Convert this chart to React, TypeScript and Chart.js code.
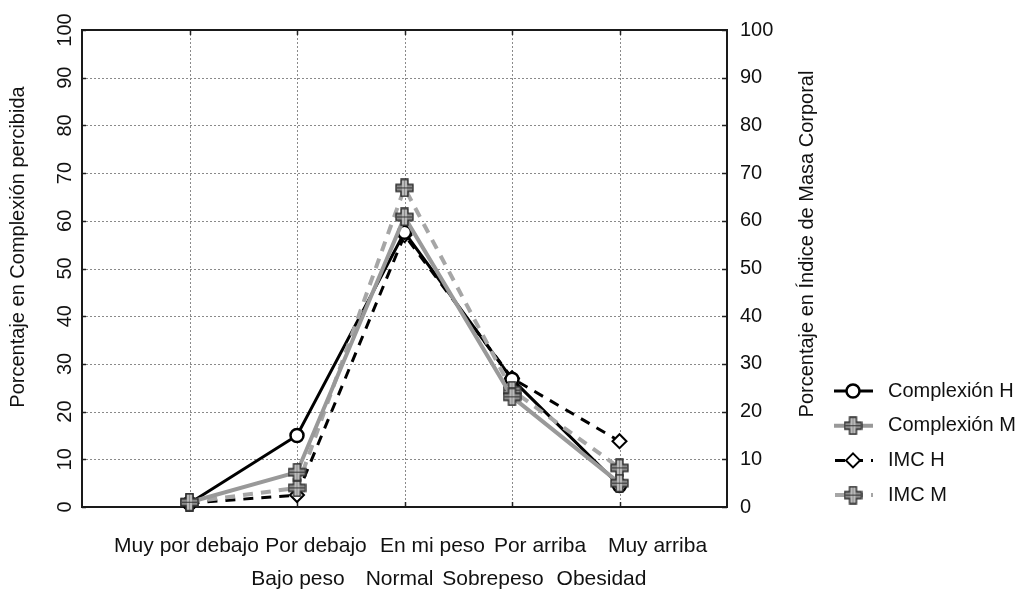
import React, { useEffect, useRef } from "react";
import { Chart, registerables } from "chart.js";

Chart.register(...registerables);

// ---- data ----
const complexionLabels = ["Muy por debajo", "Por debajo", "En mi peso", "Por arriba", "Muy arriba"];
const imcLabels = ["", "Bajo peso", "Normal", "Sobrepeso", "Obesidad"];
const categoryPositions = [1, 2, 3, 4, 5];
const complexionH = [0.8, 15.0, 57.6, 26.8, 4.5];
const complexionM = [1.0, 7.3, 60.8, 23.1, 5.0];
const imcH = [0.8, 2.5, 57.0, 27.0, 13.8];
const imcM = [1.0, 4.0, 66.9, 24.5, 8.2];
const yTickValues = [0, 10, 20, 30, 40, 50, 60, 70, 80, 90, 100];
const seriesNames = ["Complexión H", "Complexión M", "IMC H", "IMC M"];
const leftTitle = "Porcentaje en Complexión percibida";
const rightTitle = "Porcentaje en Índice de Masa Corporal";

// ---- layout (not data) ----
const row1Offsets = [-3, 19, 28, 28, 38];
const row2Offsets = [0, 1, -5, -19, -18];
const FONT = '"Liberation Sans", Arial, sans-serif';
const TEXT = "#111";

function makeCross(): HTMLCanvasElement {
  const c = document.createElement("canvas");
  c.width = 19;
  c.height = 19;
  const g = c.getContext("2d")!;
  const cx = 9.5, cy = 9.5, a = 3.5, L = 8.5;
  g.beginPath();
  g.moveTo(cx - a, cy - L);
  g.lineTo(cx + a, cy - L);
  g.lineTo(cx + a, cy - a);
  g.lineTo(cx + L, cy - a);
  g.lineTo(cx + L, cy + a);
  g.lineTo(cx + a, cy + a);
  g.lineTo(cx + a, cy + L);
  g.lineTo(cx - a, cy + L);
  g.lineTo(cx - a, cy + a);
  g.lineTo(cx - L, cy + a);
  g.lineTo(cx - L, cy - a);
  g.lineTo(cx - a, cy - a);
  g.closePath();
  g.fillStyle = "#8c8c8c";
  g.fill();
  g.strokeStyle = "#2a2a2a";
  g.lineWidth = 1.3;
  g.stroke();
  g.strokeStyle = "#e8e8e8";
  g.lineWidth = 1;
  g.beginPath();
  g.moveTo(cx - 1.5, cy - L + 1);
  g.lineTo(cx - 1.5, cy + L - 1);
  g.moveTo(cx + 1.5, cy - L + 1);
  g.lineTo(cx + 1.5, cy + L - 1);
  g.stroke();
  g.strokeStyle = "#333";
  g.beginPath();
  g.moveTo(cx - L + 1, cy);
  g.lineTo(cx + L - 1, cy);
  g.stroke();
  return c;
}

function line(ctx: CanvasRenderingContext2D, x1: number, y1: number, x2: number, y2: number) {
  ctx.beginPath();
  ctx.moveTo(x1, y1);
  ctx.lineTo(x2, y2);
  ctx.stroke();
}

function drawMarker(ctx: CanvasRenderingContext2D, ds: any, x: number, y: number) {
  const style = ds.pointStyle;
  if (style instanceof HTMLCanvasElement) {
    ctx.drawImage(style, x - style.width / 2, y - style.height / 2);
    return;
  }
  const r = ds.pointRadius;
  ctx.beginPath();
  if (style === "circle") {
    ctx.arc(x, y, r, 0, Math.PI * 2);
  } else {
    ctx.moveTo(x, y - r);
    ctx.lineTo(x + r, y);
    ctx.lineTo(x, y + r);
    ctx.lineTo(x - r, y);
    ctx.closePath();
  }
  ctx.fillStyle = ds.pointBackgroundColor;
  ctx.fill();
  ctx.lineWidth = ds.pointBorderWidth;
  ctx.strokeStyle = ds.pointBorderColor;
  ctx.stroke();
}

const decor = {
  id: "decor",
  beforeDatasetsDraw(chart: any) {
    const { ctx, chartArea: a, scales } = chart;
    const xs = scales.x, ys = scales.y;
    ctx.save();
    ctx.strokeStyle = "#8a8a8a";
    ctx.lineWidth = 1;
    ctx.setLineDash([2, 2]);
    yTickValues.forEach((v) => {
      if (v === 0 || v === 100) return;
      const py = Math.round(ys.getPixelForValue(v)) + 0.5;
      line(ctx, a.left, py, a.right, py);
    });
    categoryPositions.forEach((c) => {
      const px = Math.round(xs.getPixelForValue(c)) + 0.5;
      line(ctx, px, a.top, px, a.bottom);
    });
    ctx.setLineDash([]);
    ctx.strokeStyle = "#222";
    ctx.lineWidth = 1.5;
    yTickValues.forEach((v) => {
      const py = Math.round(ys.getPixelForValue(v)) + 0.5;
      line(ctx, a.left, py, a.left + 4, py);
      line(ctx, a.right - 5, py, a.right, py);
    });
    categoryPositions.forEach((c) => {
      const px = Math.round(xs.getPixelForValue(c)) + 0.5;
      line(ctx, px, a.bottom - 5, px, a.bottom);
      line(ctx, px, a.top, px, a.top + 5);
    });
    ctx.lineWidth = 2;
    ctx.strokeStyle = "#1a1a1a";
    ctx.strokeRect(a.left, a.top, a.right - a.left, a.bottom - a.top);
    ctx.restore();
  },
  afterDraw(chart: any) {
    const { ctx, chartArea: a, scales } = chart;
    const xs = scales.x, ys = scales.y;
    ctx.save();
    ctx.fillStyle = TEXT;
    ctx.font = `20px ${FONT}`;
    ctx.textBaseline = "middle";
    // left tick labels (rotated)
    yTickValues.forEach((v) => {
      const py = ys.getPixelForValue(v);
      ctx.save();
      ctx.translate(a.left - 17, py);
      ctx.rotate(-Math.PI / 2);
      ctx.textAlign = "center";
      ctx.fillText(String(v), 0, 0);
      ctx.restore();
    });
    // right tick labels
    ctx.textAlign = "left";
    yTickValues.forEach((v) => {
      const py = ys.getPixelForValue(v);
      ctx.fillText(String(v), a.right + 13, py);
    });
    // titles
    const midY = 247;
    ctx.save();
    ctx.translate(18, midY);
    ctx.rotate(-Math.PI / 2);
    ctx.textAlign = "center";
    ctx.fillText(leftTitle, 0, 0);
    ctx.restore();
    ctx.save();
    ctx.translate(a.right + 80, midY - 3);
    ctx.rotate(-Math.PI / 2);
    ctx.textAlign = "center";
    ctx.fillText(rightTitle, 0, 0);
    ctx.restore();
    // x labels, two rows
    ctx.font = `21px ${FONT}`;
    ctx.textAlign = "center";
    categoryPositions.forEach((c, i) => {
      const px = xs.getPixelForValue(c);
      ctx.fillText(complexionLabels[i], px + row1Offsets[i], a.bottom + 39);
      if (imcLabels[i]) ctx.fillText(imcLabels[i], px + row2Offsets[i], a.bottom + 72);
    });
    // legend
    ctx.font = `20px ${FONT}`;
    ctx.textAlign = "left";
    const datasets = chart.data.datasets;
    const lx1 = a.right + 107, lx2 = a.right + 146, mx = a.right + 126;
    datasets.forEach((ds: any, i: number) => {
      const ly = 391 + i * 34.7;
      ctx.save();
      ctx.strokeStyle = ds.borderColor;
      ctx.lineWidth = ds.borderWidth;
      ctx.setLineDash(ds.borderDash || []);
      ctx.lineDashOffset = ds.borderDash ? -1 : 0;
      ctx.lineCap = "butt";
      line(ctx, lx1, ly, lx2, ly);
      ctx.setLineDash([]);
      drawMarker(ctx, ds, mx, ly);
      ctx.restore();
      ctx.fillStyle = TEXT;
      ctx.fillText(seriesNames[i], a.right + 161, ly);
    });
    ctx.restore();
  },
};

export default function App() {
  const canvasRef = useRef<HTMLCanvasElement | null>(null);

  useEffect(() => {
    if (!canvasRef.current) return;
    const cross = makeCross();
    const toPoints = (vals: number[]) => vals.map((v, i) => ({ x: categoryPositions[i], y: v }));
    const chart = new Chart(canvasRef.current, {
      type: "line",
      data: {
        datasets: [
          {
            label: seriesNames[0],
            data: toPoints(complexionH),
            borderColor: "#000000",
            borderWidth: 3,
            pointStyle: "circle",
            pointRadius: 6.5,
            pointBorderWidth: 2.5,
            pointBackgroundColor: "#ffffff",
            pointBorderColor: "#000000",
            clip: false,
            order: 2,
          },
          {
            label: seriesNames[1],
            data: toPoints(complexionM),
            borderColor: "#999999",
            borderWidth: 4,
            pointStyle: cross,
            pointRadius: 9,
            pointBackgroundColor: "#8c8c8c",
            pointBorderColor: "#333333",
            clip: false,
            order: 0,
          },
          {
            label: seriesNames[2],
            data: toPoints(imcH),
            borderColor: "#000000",
            borderWidth: 3,
            borderDash: [10, 8],
            pointStyle: "rectRot",
            pointRadius: 7,
            pointBorderWidth: 2,
            pointBackgroundColor: "#ffffff",
            pointBorderColor: "#000000",
            clip: false,
            order: 3,
            yAxisID: "y2",
          },
          {
            label: seriesNames[3],
            data: toPoints(imcM),
            borderColor: "#a6a6a6",
            borderWidth: 4,
            borderDash: [10, 8],
            pointStyle: cross,
            pointRadius: 9,
            pointBackgroundColor: "#8c8c8c",
            pointBorderColor: "#333333",
            clip: false,
            order: 1,
            yAxisID: "y2",
          },
        ] as any,
      },
      options: {
        responsive: false,
        animation: false,
        devicePixelRatio: 1,
        layout: { padding: { top: 30, left: 0, right: 0, bottom: 0 } },
        plugins: { legend: { display: false }, tooltip: { enabled: false }, title: { display: false } },
        scales: {
          x: {
            type: "linear",
            min: 0,
            max: 6,
            grid: { display: false },
            border: { display: false },
            ticks: { display: false },
            afterFit: (s: any) => {
              s.height = 82;
            },
          },
          y: {
            position: "left",
            min: 0,
            max: 100,
            grid: { display: false },
            border: { display: false },
            ticks: { display: false },
            afterFit: (s: any) => {
              s.width = 82;
            },
          },
          y2: {
            position: "right",
            min: 0,
            max: 100,
            grid: { display: false },
            border: { display: false },
            ticks: { display: false },
            afterFit: (s: any) => {
              s.width = 296;
            },
          },
        },
      } as any,
      plugins: [decor],
    });
    return () => chart.destroy();
  }, []);

  return (
    <div style={{ position: "fixed", left: 0, top: 0, width: 1023, height: 589, background: "#fff" }}>
      <canvas ref={canvasRef} width={1023} height={589} style={{ display: "block" }} />
    </div>
  );
}
